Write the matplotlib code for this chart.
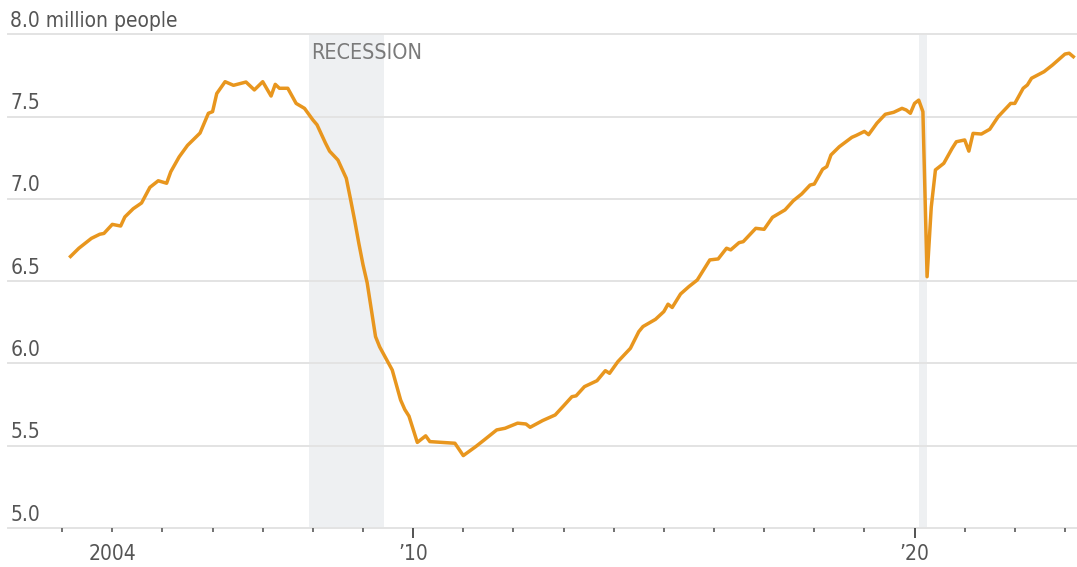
#Construction employment chart, million people

#Imports
import pandas as pd
import matplotlib.pyplot as plt
from matplotlib.ticker import FixedLocator, FixedFormatter

plt.rcParams['font.family'] = ['DejaVu Sans']
plt.rcParams['font.stretch'] = 'condensed'

# data (month, million people)
months = [
    "2003-03", "2003-05", "2003-08", "2003-10", "2003-11", "2004-01", "2004-03", "2004-04",
    "2004-06", "2004-08", "2004-10", "2004-12", "2005-02", "2005-03", "2005-05", "2005-07",
    "2005-10", "2005-12", "2006-01", "2006-02", "2006-04", "2006-06", "2006-09", "2006-11",
    "2007-01", "2007-03", "2007-04", "2007-05", "2007-07", "2007-09", "2007-11", "2008-01",
    "2008-02", "2008-04", "2008-05", "2008-07", "2008-09", "2008-10", "2008-11", "2008-12",
    "2009-01", "2009-02", "2009-04", "2009-05", "2009-08", "2009-10", "2009-11", "2009-12",
    "2010-02", "2010-04", "2010-05", "2010-08", "2010-11", "2011-01", "2011-04", "2011-06",
    "2011-09", "2011-11", "2012-02", "2012-04", "2012-05", "2012-08", "2012-11", "2013-01",
    "2013-03", "2013-04", "2013-06", "2013-09", "2013-11", "2013-12", "2014-02", "2014-05",
    "2014-07", "2014-08", "2014-11", "2015-01", "2015-02", "2015-03", "2015-05", "2015-07",
    "2015-09", "2015-12", "2016-02", "2016-04", "2016-05", "2016-07", "2016-08", "2016-11",
    "2017-01", "2017-03", "2017-06", "2017-08", "2017-10", "2017-12", "2018-01", "2018-03",
    "2018-04", "2018-05", "2018-07", "2018-10", "2018-11", "2019-01", "2019-02", "2019-04",
    "2019-06", "2019-08", "2019-10", "2019-11", "2019-12", "2020-01", "2020-02", "2020-03",
    "2020-04", "2020-05", "2020-06", "2020-08", "2020-10", "2020-11", "2021-01", "2021-02",
    "2021-03", "2021-05", "2021-07", "2021-09", "2021-12", "2022-01", "2022-03", "2022-04",
    "2022-05", "2022-08", "2022-10", "2023-01", "2023-02", "2023-03",
]
people = [
    6.65, 6.70, 6.76, 6.785, 6.79, 6.845, 6.835, 6.89,
    6.94, 6.975, 7.07, 7.11, 7.095, 7.165, 7.255, 7.325,
    7.40, 7.52, 7.53, 7.64, 7.712, 7.69, 7.71, 7.662,
    7.712, 7.625, 7.696, 7.672, 7.672, 7.58, 7.55, 7.48,
    7.45, 7.34, 7.29, 7.236, 7.125, 7.00, 6.87, 6.73,
    6.60, 6.49, 6.163, 6.10, 5.96, 5.778, 5.72, 5.68,
    5.52, 5.56, 5.525, 5.52, 5.515, 5.44, 5.495, 5.535,
    5.596, 5.606, 5.637, 5.632, 5.612, 5.653, 5.687, 5.742,
    5.798, 5.803, 5.859, 5.895, 5.956, 5.94, 6.011, 6.092,
    6.193, 6.224, 6.268, 6.315, 6.36, 6.34, 6.422, 6.467,
    6.507, 6.629, 6.635, 6.70, 6.69, 6.734, 6.74, 6.821,
    6.815, 6.888, 6.933, 6.989, 7.03, 7.084, 7.09, 7.18,
    7.196, 7.267, 7.317, 7.374, 7.385, 7.41, 7.39, 7.46,
    7.514, 7.526, 7.55, 7.54, 7.52, 7.58, 7.60, 7.53,
    6.527, 6.95, 7.176, 7.216, 7.307, 7.347, 7.358, 7.29,
    7.398, 7.394, 7.423, 7.499, 7.58, 7.58, 7.672, 7.692,
    7.733, 7.773, 7.813, 7.88, 7.885, 7.864,
]

recessions = [("2007-12", "2009-06"), ("2020-02", "2020-04")]
y_ticks = [5.0, 5.5, 6.0, 6.5, 7.0, 7.5, 8.0]
y_labels = ["5.0", "5.5", "6.0", "6.5", "7.0", "7.5", "8.0 million people"]


def to_year(month_str):
    '''
Turns a 'YYYY-MM' string into a decimal year (first of month).
    '''
    d = pd.to_datetime(month_str)
    return d.year + (d.month - 1) / 12


x = [to_year(m) for m in months]

fig = plt.figure(figsize=(10.77, 5.67), dpi=100)
ax = fig.add_axes([8 / 1077, 39 / 567, 1 - 8 / 1077, 493.7 / 567])

# recession shading
for start, end in recessions:
    ax.axvspan(to_year(start), to_year(end), color='#eef0f2', lw=0, zorder=0)
ax.text(to_year("2007-12") + 0.05, 7.885, "RECESSION", color='#7a7a7a', fontsize=15.5,
        va='center', ha='left', zorder=1)

# gridlines + labels sitting on them
for val, lab in zip(y_ticks, y_labels):
    ax.axhline(val, color='#e3e3e3', lw=1.4, zorder=1, clip_on=False)
    ax.annotate(lab, xy=(0.002, val), xycoords=('axes fraction', 'data'),
                xytext=(0, 2.5), textcoords='offset points',
                ha='left', va='bottom', color='#555555', fontsize=15)

ax.plot(x, people, color='#e8961e', lw=2.5, zorder=3, solid_joinstyle='round')

ax.set_xlim(2001.92, 2023.24)
ax.set_ylim(5.0, 8.0)

for s in ax.spines.values():
    s.set_visible(False)
ax.set_yticks([])

major_years = [2010, 2020]
minor_years = [yr for yr in range(2003, 2024) if yr not in major_years]
ax.xaxis.set_major_locator(FixedLocator(major_years))
ax.xaxis.set_major_formatter(FixedFormatter(["\u201910", "\u201920"]))
ax.xaxis.set_minor_locator(FixedLocator(minor_years))
ax.xaxis.set_minor_formatter(FixedFormatter(["2004" if yr == 2004 else "" for yr in minor_years]))
ax.tick_params(axis='x', which='major', length=7, width=1.3, color='#444444',
               labelsize=15, labelcolor='#555555', pad=4.5)
ax.tick_params(axis='x', which='minor', length=3, width=1.3, color='#666666',
               labelsize=15, labelcolor='#555555', pad=8.5)

plt.savefig("out.png", dpi=100)
